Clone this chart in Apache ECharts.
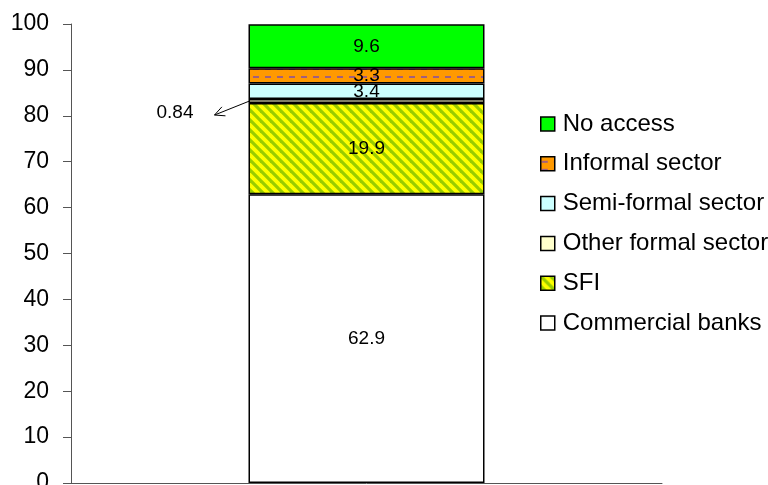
<!DOCTYPE html>
<html>
<head>
<meta charset="utf-8">
<script src="https://cdn.jsdelivr.net/npm/echarts@6/dist/echarts.min.js"></script>
<style>
  html, body { margin: 0; padding: 0; background: #fff; }
  #chart { width: 768px; height: 485px; }
</style>
</head>
<body>
<div id="chart"></div>
<script>
// Access to financial services, share of population (%), stacked bottom to top
const categories = [''];
const seriesNames = ['Commercial banks', 'SFI', 'Other formal sector', 'Semi-formal sector', 'Informal sector', 'No access'];
const commercialBanks = [62.9];
const sfi = [19.9];
const otherFormal = [0.84];
const semiFormal = [3.4];
const informal = [3.3];
const noAccess = [9.6];
const yTicks = [0, 10, 20, 30, 40, 50, 60, 70, 80, 90, 100];

const FONT = '"Liberation Sans", Arial, sans-serif';
const BAR_WIDTH = 236;

// Diagonal yellow/green stripes for SFI
function stripePattern() {
  const n = 10;
  const c = document.createElement('canvas');
  c.width = n; c.height = n;
  const g = c.getContext('2d');
  g.fillStyle = '#ffff00';
  g.fillRect(0, 0, n, n);
  g.strokeStyle = '#99cc00';
  g.lineWidth = 3.2;
  for (let k = -1; k <= 1; k++) {
    g.beginPath();
    g.moveTo(k * n - 2, -2);
    g.lineTo(k * n + n + 2, n + 2);
    g.stroke();
  }
  return c;
}

// Orange fill with rows of short mauve dashes for the informal sector
function dashPattern() {
  const w = 12, h = 8;
  const c = document.createElement('canvas');
  c.width = w; c.height = h;
  const g = c.getContext('2d');
  g.fillStyle = '#ff9900';
  g.fillRect(0, 0, w, h);
  g.fillStyle = '#a0607e';
  g.fillRect(1, 4, 6, 2);
  return c;
}

const fills = {
  'Commercial banks': '#ffffff',
  'SFI': { image: stripePattern(), repeat: 'repeat' },
  'Other formal sector': '#ffffcc',
  'Semi-formal sector': '#ccffff',
  'Informal sector': { image: dashPattern(), repeat: 'repeat' },
  'No access': '#00ff00'
};

const values = {
  'Commercial banks': commercialBanks,
  'SFI': sfi,
  'Other formal sector': otherFormal,
  'Semi-formal sector': semiFormal,
  'Informal sector': informal,
  'No access': noAccess
};

const series = seriesNames.map(name => {
  const isSmall = name === 'Other formal sector';
  return {
    name: name,
    type: 'bar',
    stack: 'total',
    barWidth: BAR_WIDTH,
    data: values[name],
    itemStyle: { color: fills[name], borderColor: '#000', borderWidth: 1.5 },
    emphasis: { disabled: true },
    label: {
      show: true,
      position: isSmall ? 'left' : 'inside',
      distance: isSmall ? 55 : 5,
      offset: isSmall ? [0, 12] : [0, 0],
      color: '#000',
      fontFamily: FONT,
      fontSize: 19,
      formatter: p => String(p.value)
    }
  };
});

const chart = echarts.init(document.getElementById('chart'), null, { renderer: 'canvas' });

chart.setOption({
  animation: false,
  backgroundColor: '#fff',
  grid: { left: 71, right: 106, top: 24, bottom: 2, containLabel: false, outerBoundsMode: 'none' },
  legend: {
    orient: 'vertical',
    left: 540,
    top: 112,
    padding: 0,
    icon: 'rect',
    itemWidth: 14,
    itemHeight: 14,
    itemGap: 15.8,
    data: seriesNames.slice().reverse(),
    textStyle: { fontFamily: FONT, fontSize: 24, color: '#000', lineHeight: 24, padding: [0, 0, 0, 3] },
    itemStyle: { borderColor: '#000', borderWidth: 1.5 }
  },
  xAxis: {
    type: 'category',
    data: categories,
    axisLine: { show: true, lineStyle: { color: '#555', width: 1 } },
    axisTick: { show: false },
    axisLabel: { show: false },
    splitLine: { show: false }
  },
  yAxis: {
    type: 'value',
    min: yTicks[0],
    max: yTicks[yTicks.length - 1],
    interval: yTicks[1] - yTicks[0],
    axisLine: { show: true, lineStyle: { color: '#555', width: 1 } },
    axisTick: { show: true, length: 8, lineStyle: { color: '#555' } },
    axisLabel: { color: '#000', fontFamily: FONT, fontSize: 23, margin: 22 },
    splitLine: { show: false }
  },
  series: series
});

// Leader arrow from the thin "Other formal sector" segment to its label
(function drawLeader() {
  const base = commercialBanks[0] + sfi[0];
  const mid = chart.convertToPixel({ xAxisIndex: 0, yAxisIndex: 0 }, [0, base + otherFormal[0] / 2]);
  const sx = mid[0] - BAR_WIDTH / 2 + 1, sy = mid[1];
  const ex = sx - 35, ey = sy + 14;
  const dx = sx - ex, dy = sy - ey, len = Math.hypot(dx, dy);
  const ux = dx / len, uy = dy / len;
  const head = 11, ang = 26 * Math.PI / 180;
  const rot = (a) => [ex + head * (ux * Math.cos(a) - uy * Math.sin(a)), ey + head * (ux * Math.sin(a) + uy * Math.cos(a))];
  const h1 = rot(ang), h2 = rot(-ang);
  chart.setOption({
    graphic: [
      { type: 'line', shape: { x1: sx, y1: sy, x2: ex, y2: ey }, style: { stroke: '#000', lineWidth: 1 }, z: 10 },
      { type: 'polyline', shape: { points: [h1, [ex, ey], h2] }, style: { stroke: '#000', lineWidth: 1, fill: null }, z: 10 }
    ]
  });
})();
</script>
</body>
</html>
